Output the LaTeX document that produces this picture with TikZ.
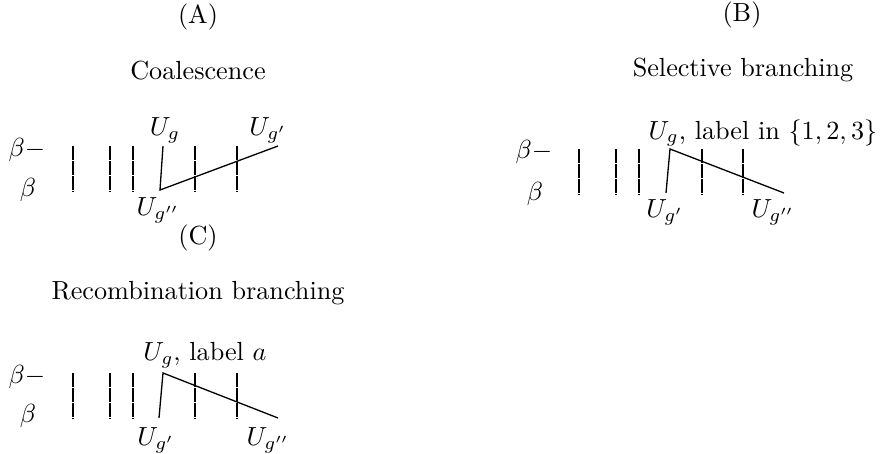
\documentclass[tikz,border=0pt]{standalone}
\usepackage{amsmath}

\begin{document}
\begin{tikzpicture}[
        x=0.382pt, y=-0.382pt,
        tick/.style={dash pattern=on 5.3pt off 0.45pt},
        branch/.style={line width=0.5pt}
    ]
    \useasboundingbox (0,0) rectangle (880,454);

    % (A) coalescence
    \node (capA) at (198,17) {(A)};
    \node (titleA) at (198,71) {Coalescence};
    \node (betaA) at (27,150) {$\beta-$};
    \node (baseA) at (28,190) {$\beta$};
    \foreach \x in {73,110,133,195,237}
        \draw[tick] (\x,146) -- (\x,192);
    \coordinate (topA) at (163,146);
    \coordinate (joinA) at (160,190);
    \coordinate (endA) at (278,146);
    \draw[branch] (topA) -- (joinA) -- (endA);
    \node (ugA) at (165,130) {$U_g$};
    \node (ugpA) at (268,130) {$U_{g'}$};
    \node (ugppA) at (158,210) {$U_{g''}$};

    % (B) selective branching
    \node (capB) at (742,15) {(B)};
    \node (titleB) at (743,70) {Selective branching};
    \node (betaB) at (534,152) {$\beta-$};
    \node (baseB) at (535,194) {$\beta$};
    \foreach \x in {579,616,639,702,743}
        \draw[tick] (\x,149) -- (\x,195);
    \coordinate (topB) at (670,149);
    \coordinate (joinB) at (666,193);
    \coordinate (endB) at (784,193);
    \draw[branch] (joinB) -- (topB) -- (endB);
    \node (ugB) at (763,133) {$U_g$, label in $\{1,2,3\}$};
    \node (ugpB) at (665,212) {$U_{g'}$};
    \node (ugppB) at (773,212) {$U_{g''}$};

    % (C) recombination branching
    \node (capC) at (198,238) {(C)};
    \node (titleC) at (198,293) {Recombination branching};
    \node (betaC) at (27,377) {$\beta-$};
    \node (baseC) at (28,416) {$\beta$};
    \foreach \x in {73,110,133,195,237}
        \draw[tick] (\x,373) -- (\x,419);
    \coordinate (topC) at (163,373);
    \coordinate (joinC) at (159,418);
    \coordinate (endC) at (278,418);
    \draw[branch] (joinC) -- (topC) -- (endC);
    \node (ugC) at (205,355) {$U_g$, label $a$};
    \node (ugpC) at (156,440) {$U_{g'}$};
    \node (ugppC) at (268,440) {$U_{g''}$};
\end{tikzpicture}
\end{document}
